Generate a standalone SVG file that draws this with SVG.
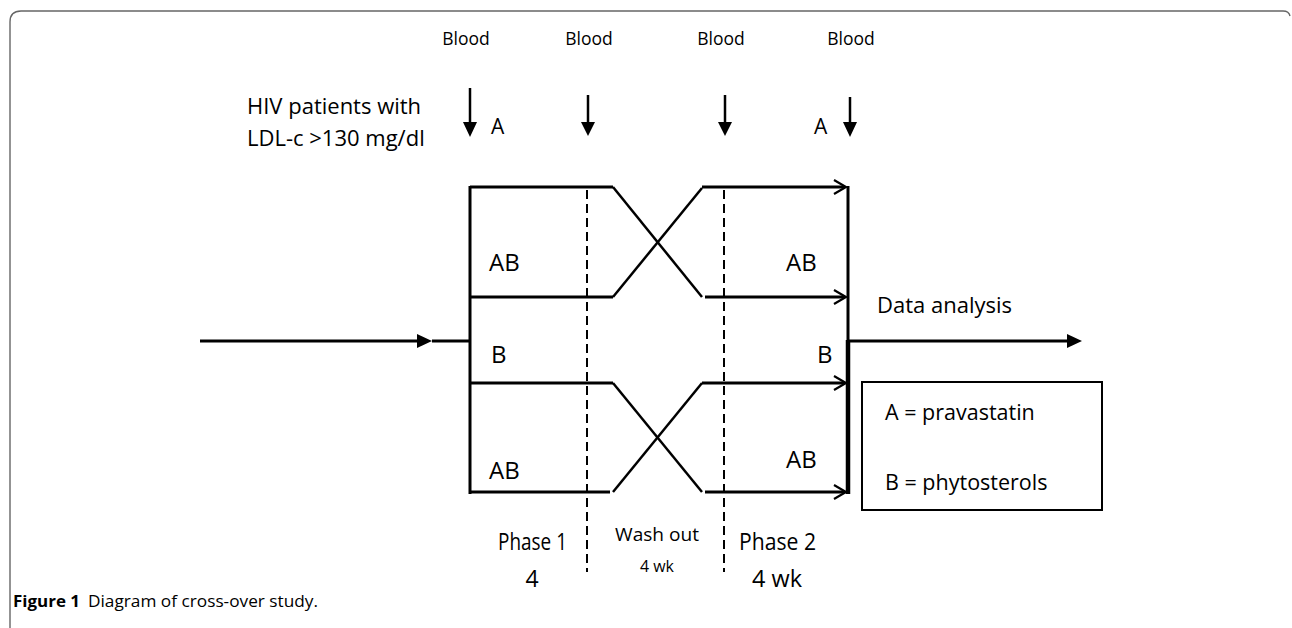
<svg xmlns="http://www.w3.org/2000/svg" width="1292" height="628" viewBox="0 0 1292 628">
<defs>
<style>
.t{font-family:"Open Sans","Liberation Sans",sans-serif;fill:#000}
.ln{stroke:#000;stroke-width:3;fill:none}
.dg{stroke:#000;stroke-width:2.5;fill:none}
.ds{stroke:#000;stroke-width:2;stroke-dasharray:9 5;fill:none}
.ah{stroke:#000;stroke-width:2.2;fill:none}
</style>
</defs>
<rect width="1292" height="628" fill="#fff"/>
<path d="M10,640 L10,22 Q10,11 21,11 L1283,11 Q1289,11 1290,16" fill="none" stroke="#666" stroke-width="1.4"/>

<g id="blood-labels">
<text class="t" x="466" y="45" font-size="17.5" text-anchor="middle">Blood</text>
<text class="t" x="589" y="45" font-size="17.5" text-anchor="middle">Blood</text>
<text class="t" x="721" y="45" font-size="17.5" text-anchor="middle">Blood</text>
<text class="t" x="851" y="45" font-size="17.5" text-anchor="middle">Blood</text>
</g>
<g id="blood-arrows">
<line x1="470" y1="88" x2="470" y2="124" stroke="#000" stroke-width="2.5"/><path d="M463,122 L477,122 L470,137 Z"/>
<line x1="588" y1="95" x2="588" y2="124" stroke="#000" stroke-width="2.5"/><path d="M581,122 L595,122 L588,136 Z"/>
<line x1="725" y1="95" x2="725" y2="124" stroke="#000" stroke-width="2.5"/><path d="M718,122 L732,122 L725,136 Z"/>
<line x1="850" y1="97" x2="850" y2="124" stroke="#000" stroke-width="2.5"/><path d="M843,122 L857,122 L850,137 Z"/>
<text class="t" x="491" y="134" font-size="21">A</text>
<text class="t" x="814" y="134" font-size="21">A</text>
</g>
<g id="population">
<text class="t" x="247" y="114" font-size="22">HIV patients with</text>
<text class="t" x="247" y="146" font-size="22">LDL-c &gt;130 mg/dl</text>
</g>

<g id="connectors">
<line x1="200" y1="341" x2="420" y2="341" class="ln"/>
<path d="M417,334 L432,341 L417,348 Z"/>
<line x1="432" y1="341" x2="470" y2="341" class="ln"/>
<line x1="470" y1="186" x2="470" y2="494" class="ln"/>
<polyline points="470,187 613,187" class="ln"/>
<polyline points="470,297 613,297" class="ln"/>
<polyline points="470,383 613,383" class="ln"/>
<polyline points="470,492 610,492" class="ln"/>
<line x1="613" y1="187" x2="702" y2="297" class="dg"/>
<line x1="613" y1="297" x2="702" y2="188" class="dg"/>
<line x1="613" y1="383" x2="702" y2="492" class="dg"/>
<line x1="613" y1="492" x2="702" y2="383" class="dg"/>
<line x1="702" y1="187" x2="845" y2="187" class="ln"/>
<line x1="705" y1="297" x2="845" y2="297" class="ln"/>
<line x1="702" y1="383" x2="845" y2="383" class="ln"/>
<line x1="705" y1="492" x2="845" y2="492" class="ln"/>
<path d="M834,180 L846,187 L834,194" class="ah"/>
<path d="M834,290 L846,297 L834,304" class="ah"/>
<path d="M834,376 L846,383 L834,390" class="ah"/>
<path d="M834,485 L846,492 L834,499" class="ah"/>
<line x1="848" y1="186" x2="848" y2="342" stroke="#000" stroke-width="3"/>
<line x1="848" y1="340" x2="848" y2="494" stroke="#000" stroke-width="4.5"/>
<line x1="848" y1="341" x2="1070" y2="341" class="ln"/>
<path d="M1067,334 L1082,341 L1067,348 Z"/>
<line x1="587" y1="190" x2="587" y2="572" class="ds"/>
<line x1="724" y1="190" x2="724" y2="572" class="ds"/>
</g>

<g id="arm-labels">
<text class="t" x="489" y="271" font-size="24">AB</text>
<text class="t" x="786" y="271" font-size="24">AB</text>
<text class="t" x="491" y="363" font-size="24">B</text>
<text class="t" x="817" y="363" font-size="24">B</text>
<text class="t" x="489" y="479" font-size="24">AB</text>
<text class="t" x="786" y="468" font-size="24">AB</text>
</g>
<g id="data-analysis">
<text class="t" x="877" y="313" font-size="22">Data analysis</text>
</g>
<g id="legend">
<rect x="862" y="382" width="240" height="128" fill="none" stroke="#000" stroke-width="2"/>
<text class="t" x="885" y="420" font-size="21.5">A = pravastatin</text>
<text class="t" x="885" y="490" font-size="21.5">B = phytosterols</text>
</g>
<g id="phases">
<text class="t" x="498" y="550" font-size="23" textLength="69" lengthAdjust="spacingAndGlyphs">Phase 1</text>
<text class="t" x="532" y="587" font-size="23" text-anchor="middle">4</text>
<text class="t" x="615" y="541" font-size="18" textLength="84" lengthAdjust="spacingAndGlyphs">Wash out</text>
<text class="t" x="657" y="572" font-size="17" text-anchor="middle" textLength="34" lengthAdjust="spacingAndGlyphs">4 wk</text>
<text class="t" x="739" y="550" font-size="23" textLength="77" lengthAdjust="spacingAndGlyphs">Phase 2</text>
<text class="t" x="777" y="587" font-size="23" text-anchor="middle" textLength="50" lengthAdjust="spacingAndGlyphs">4 wk</text>
</g>
<g id="caption">
<text class="t" x="13" y="607" font-size="16.5"><tspan font-weight="bold" textLength="67" lengthAdjust="spacingAndGlyphs">Figure 1</tspan><tspan x="88" textLength="230" lengthAdjust="spacingAndGlyphs">Diagram of cross-over study.</tspan></text>
</g>
</svg>
